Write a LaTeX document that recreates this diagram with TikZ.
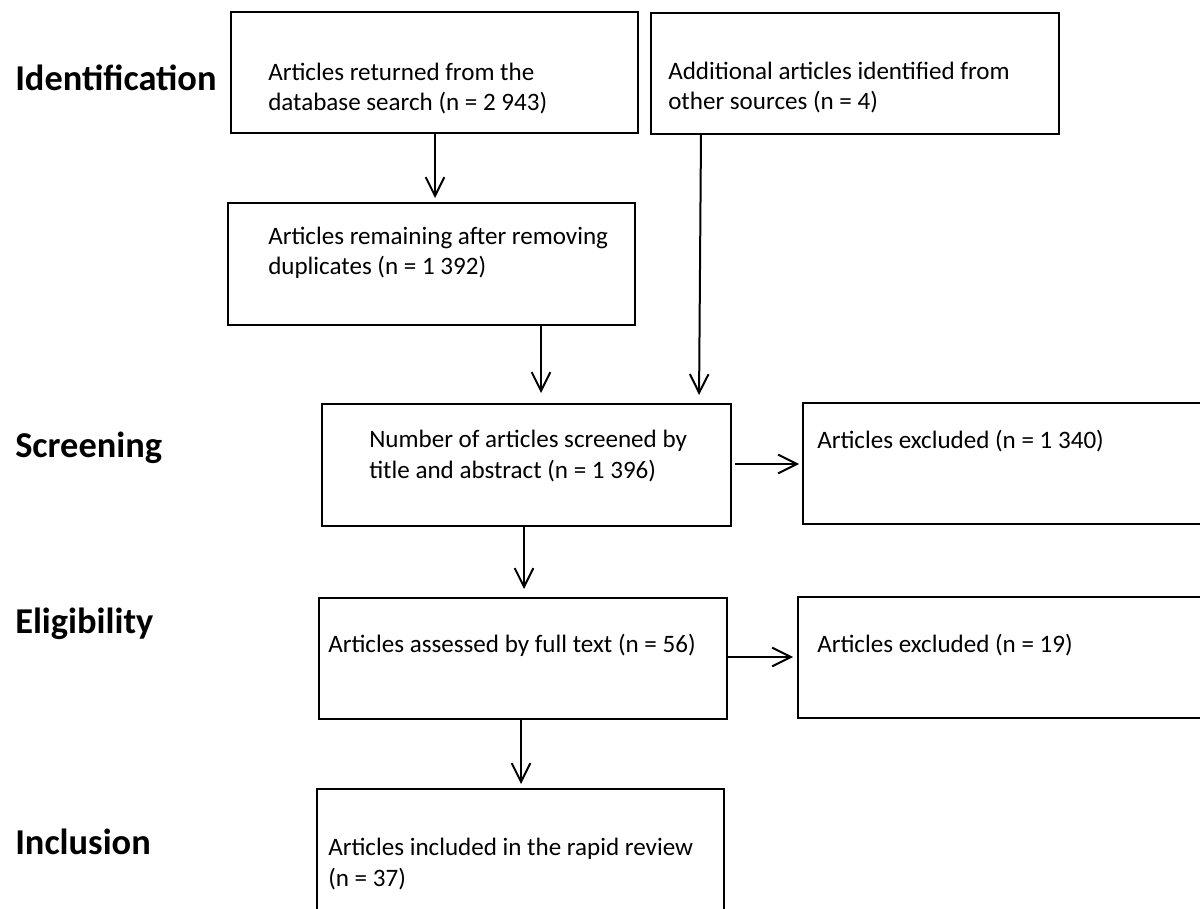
\documentclass[tikz,border=0pt]{standalone}
\usepackage{fontspec}
\setmainfont{Carlito}
\usetikzlibrary{arrows.meta,fit}
\begin{document}
\begin{tikzpicture}[x=0.75pt,y=-0.75pt,
  box/.style={draw, line width=1.5pt, inner sep=0pt, outer sep=0pt, fill=none},
  txt/.style={anchor=base west, align=left, inner sep=0pt, font=\fontsize{18.8}{23}\selectfont},
  head/.style={anchor=base west, inner sep=0pt, font=\fontsize{27.3}{31}\selectfont\bfseries},
  arr/.style={line width=1.5pt, -{Straight Barb[length=14pt,width=14pt,line width=1.5pt]}}]
\clip (0,0) rectangle (1200,909);
\fill[white] (0,0) rectangle (1200,909);
% boxes
\node[box, fit={(231,12) (638,133)}] (A) {};
\node[box, fit={(651,13) (1059,134)}] (B) {};
\node[box, fit={(228,203) (635,325)}] (C) {};
\node[box, fit={(322,404) (731,526)}] (D) {};
\node[box, fit={(803,403) (1220,524)}] (E) {};
\node[box, fit={(319,598) (727,719)}] (F) {};
\node[box, fit={(798,597) (1220,718)}] (G) {};
\node[box, fit={(317,789) (724,930)}] (H) {};
% texts (two-line nodes are anchored at the baseline of their last line)
\node[txt] (tA) at (268,111) {Articles returned from the\\database search (n = 2 943)};
\node[txt] (tB) at (668,110) {Additional articles identified from\\other sources (n = 4)};
\node[txt] (tC) at (268,275) {Articles remaining after removing\\duplicates (n = 1 392)};
\node[txt] (tD) at (369,478) {Number of articles screened by\\title and abstract (n = 1 396)};
\node[txt] (tE) at (817,448) {Articles excluded (n = 1 340)};
\node[txt] (tF) at (328,652) {Articles assessed by full text (n = 56)};
\node[txt] (tG) at (817,652) {Articles excluded (n = 19)};
\node[txt] (tH) at (328,886) {Articles included in the rapid review\\(n = 37)};
% headings
\node[head] (h1) at (15,91) {Identification};
\node[head] (h2) at (15,457) {Screening};
\node[head] (h3) at (15,633) {Eligibility};
\node[head] (h4) at (15,854) {Inclusion};
% connector x/y guides
\coordinate (xa) at (435,0);
\coordinate (xb1) at (701,0);
\coordinate (xb2) at (699,0);
\coordinate (xc) at (541,0);
\coordinate (xd) at (524,0);
\coordinate (xf) at (521,0);
\coordinate (yd) at (0,464);
\coordinate (yf) at (0,657);
% connectors
\draw[arr, shorten >=3.75pt] (A.south -| xa) -- (C.north -| xa);
\draw[arr, shorten >=6.75pt] (B.south -| xb1) -- (D.north -| xb2);
\draw[arr, shorten >=8.25pt] (C.south -| xc) -- (D.north -| xc);
\draw[arr, shorten <=3pt, shorten >=3pt] (D.east |- yd) -- (E.west |- yd);
\draw[arr, shorten >=6.75pt] (D.south -| xd) -- (F.north -| xd);
\draw[arr, shorten >=3.75pt] (F.east |- yf) -- (G.west |- yf);
\draw[arr, shorten >=3.75pt] (F.south -| xf) -- (H.north -| xf);
\end{tikzpicture}
\end{document}
